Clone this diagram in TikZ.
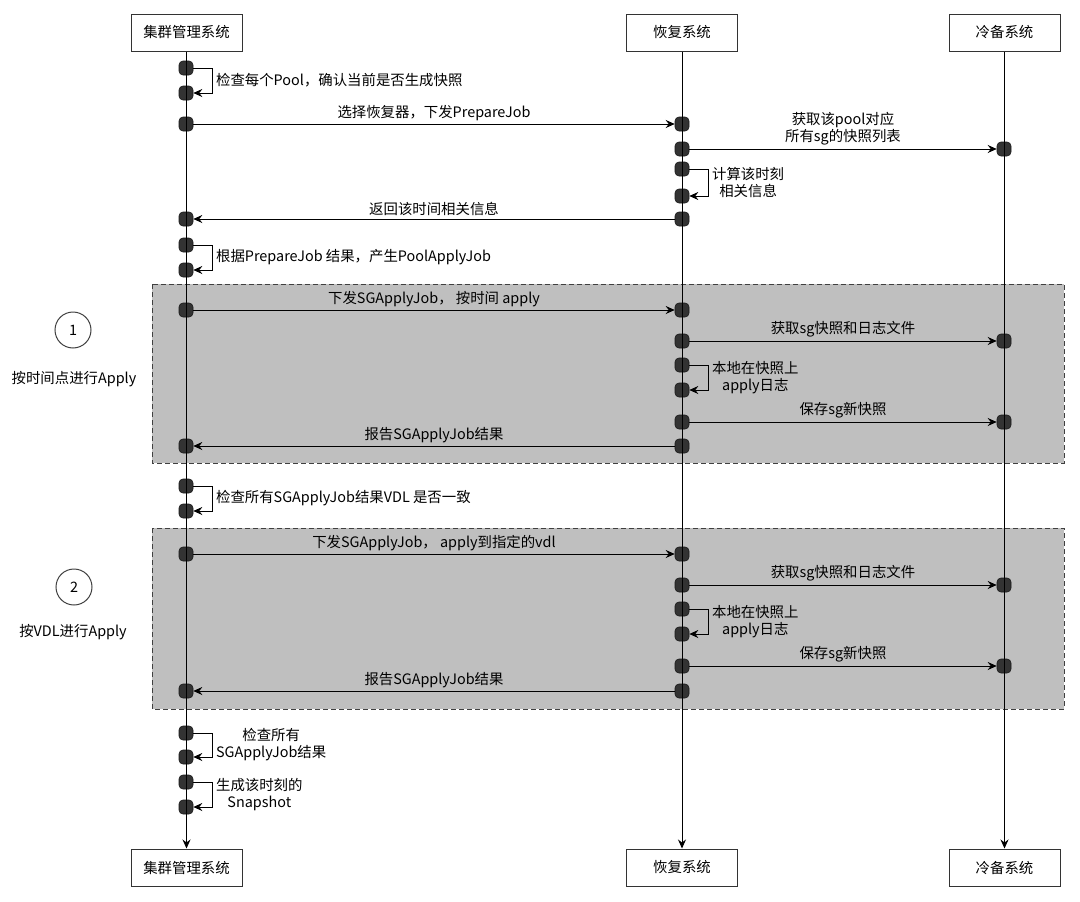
\documentclass[tikz,border=0pt]{standalone}
\usepackage{fontspec}
\setmainfont{Noto Sans CJK SC}
\usetikzlibrary{arrows.meta}

\begin{document}
\begin{tikzpicture}[x=1pt, y=-1pt, line width=1pt,
    >={Stealth[length=9pt, width=8pt, inset=3pt]},
    font=\fontsize{14.4}{17}\selectfont,
    sistema/.style={draw=black!80, minimum width=111pt, minimum height=37pt, inner sep=0pt},
    punto/.style={fill=black!80, draw=black!90, line width=0.6pt, rounded corners=4pt,
                  minimum width=14pt, minimum height=14pt, inner sep=0pt},
    grupo/.style={draw=black!75, fill=black!25, dash pattern=on 5pt off 3pt},
    paso/.style={circle, draw=black!75, minimum size=36pt, inner sep=0pt},
    msg/.style={above, inner sep=3pt, align=center}]

  \useasboundingbox (0,0) rectangle (1080,902);

  % --- Zonas de Apply ---
  \draw[grupo] (152,284) rectangle (1064,463);
  \draw[grupo] (152,528) rectangle (1064,709);

  \node[paso] (p1) at (73,330) {1};
  \node (t1) at (74,379) {按时间点进行Apply};
  \node[paso] (p2) at (74,587) {2};
  \node (t2) at (73,632) {按VDL进行Apply};

  % --- Sistemas (arriba y abajo) ---
  \node[sistema] (jqA) at (186.5,32.5)  {集群管理系统};
  \node[sistema] (hfA) at (682,32.5)    {恢复系统};
  \node[sistema] (lbA) at (1004.5,32.5) {冷备系统};
  \node[sistema] (jqB) at (186.5,867.5) {集群管理系统};
  \node[sistema] (hfB) at (682,867.5)   {恢复系统};
  \node[sistema] (lbB) at (1004.5,867.5) {冷备系统};

  % --- Puntos de activacion ---
  \foreach \n/\y in {1/68,2/93,3/124,4/219,5/245,6/270,7/310,8/446,
                     9/486,10/511,11/554,12/691,13/733,14/757,15/782,16/807}
    \node[punto] (jq\n) at (186,\y) {};
  \foreach \n/\y in {1/124,2/149,3/169,4/196,5/219,6/310,7/341,8/365,9/390,
                     10/422,11/446,12/554,13/585,14/609,15/634,16/666,17/691}
    \node[punto] (hf\n) at (682,\y) {};
  \foreach \n/\y in {1/149,2/341,3/422,4/585,5/666}
    \node[punto] (lb\n) at (1004,\y) {};

  % --- Lineas de vida ---
  \draw[->] (jqA) -- (jqB);
  \draw[->] (hfA) -- (hfB);
  \draw[->] (lbA) -- (lbB);

  % --- Preparacion ---
  \draw[->] (jq1.east) -- ++(19,0) |- node[pos=0.25, right] {检查每个Pool，确认当前是否生成快照} (jq2.east);
  \draw[->] (jq3) -- node[msg] {选择恢复器，下发PrepareJob} (hf1);
  \draw[->] (hf2) -- node[msg] {获取该pool对应\\所有sg的快照列表} (lb1);
  \draw[->] (hf3.east) -- ++(19,0) |- node[pos=0.25, right, align=center] {计算该时刻\\相关信息} (hf4.east);
  \draw[->] (hf5) -- node[msg] {返回该时间相关信息} (jq4);
  \draw[->] (jq5.east) -- ++(19,0) |- node[pos=0.25, right] {根据PrepareJob 结果，产生PoolApplyJob} (jq6.east);

  % --- Apply por tiempo ---
  \draw[->] (jq7) -- node[msg] {下发SGApplyJob， 按时间 apply} (hf6);
  \draw[->] (hf7) -- node[msg] {获取sg快照和日志文件} (lb2);
  \draw[->] (hf8.east) -- ++(19,0) |- node[pos=0.25, right, align=center] {本地在快照上\\apply日志} (hf9.east);
  \draw[->] (hf10) -- node[msg] {保存sg新快照} (lb3);
  \draw[->] (hf11) -- node[msg] {报告SGApplyJob结果} (jq8);
  \draw[->] (jq9.east) -- ++(19,0) |- node[pos=0.25, right] {检查所有SGApplyJob结果VDL 是否一致} (jq10.east);

  % --- Apply por VDL ---
  \draw[->] (jq11) -- node[msg] {下发SGApplyJob， apply到指定的vdl} (hf12);
  \draw[->] (hf13) -- node[msg] {获取sg快照和日志文件} (lb4);
  \draw[->] (hf14.east) -- ++(19,0) |- node[pos=0.25, right, align=center] {本地在快照上\\apply日志} (hf15.east);
  \draw[->] (hf16) -- node[msg] {保存sg新快照} (lb5);
  \draw[->] (hf17) -- node[msg] {报告SGApplyJob结果} (jq12);

  % --- Cierre ---
  \draw[->] (jq13.east) -- ++(19,0) |- node[pos=0.25, right, align=center] {检查所有\\SGApplyJob结果} (jq14.east);
  \draw[->] (jq15.east) -- ++(19,0) |- node[pos=0.25, right, align=center] {生成该时刻的\\Snapshot} (jq16.east);

\end{tikzpicture}
\end{document}
